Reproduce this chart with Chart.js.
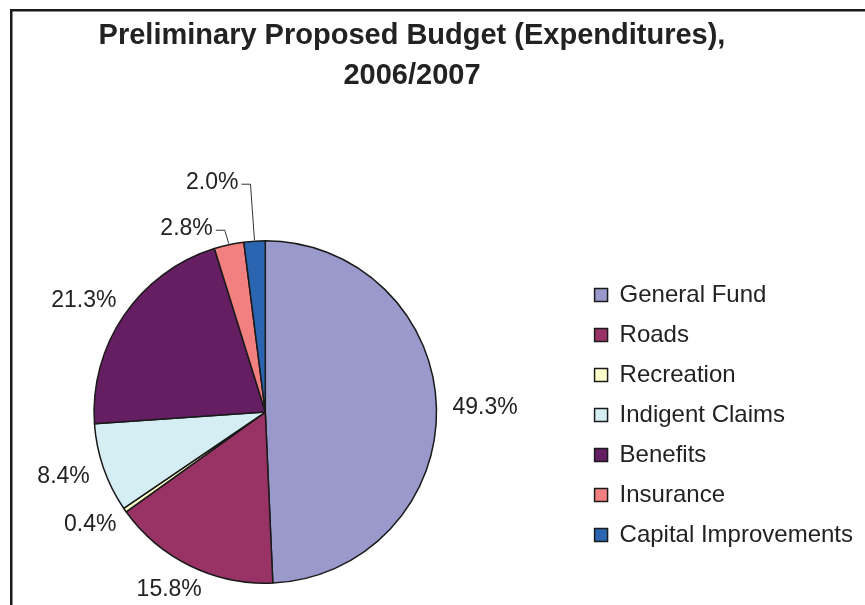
<!DOCTYPE html>
<html>
<head>
<meta charset="utf-8">
<title>Preliminary Proposed Budget (Expenditures), 2006/2007</title>
<script src="https://cdn.jsdelivr.net/npm/chart.js"></script>
<style>
  html, body { margin: 0; padding: 0; background: #fff; }
  canvas { display: block; }
</style>
</head>
<body>
<canvas id="budgetChart" width="865" height="605"></canvas>
<script>
const categories = ["General Fund", "Roads", "Recreation", "Indigent Claims", "Benefits", "Insurance", "Capital Improvements"];
const shares = [49.3, 15.8, 0.4, 8.4, 21.3, 2.8, 2.0];
const sliceColors = ["#9999CC", "#993366", "#FFFFCC", "#D4EEF4", "#651E62", "#F38080", "#2B65B2"];
const titleLines = ["Preliminary Proposed Budget (Expenditures),", "2006/2007"];

const textColor = "#222";
const fontFamily = '"Liberation Sans", Arial, sans-serif';

// white page and the dark frame round the chart
const framePlugin = {
	id: "frame",
	beforeDraw(chart) {
		const ctx = chart.ctx;
		ctx.save();
		ctx.fillStyle = "#fff";
		ctx.fillRect(0, 0, chart.width, chart.height);
		ctx.strokeStyle = "#1a1a1a";
		ctx.lineWidth = 2.5;
		ctx.strokeRect(11.25, 10.25, chart.width + 40, chart.height + 40);
		ctx.restore();
	},
};

// widen the plot area to the left so the pie sits well clear of the legend,
// and drop the legend a touch
const plotAreaPlugin = {
	id: "plotArea",
	afterLayout(chart) {
		const area = chart.chartArea;
		area.left -= 48;
		area.width = area.right - area.left;
		chart.legend.top += 3;
		chart.legend.bottom += 3;
	},
};

// percentage labels outside the slices; labels that collide get a leader line
const pctLabelPlugin = {
	id: "pctLabels",
	afterDatasetsDraw(chart) {
		const ctx = chart.ctx;
		const meta = chart.getDatasetMeta(0);
		const h = 20;
		ctx.save();
		ctx.font = "23px " + fontFamily;

		const labels = meta.data.map((arc, i) => {
			const p = arc.getProps(["x", "y", "startAngle", "endAngle", "outerRadius"], true);
			const mid = (p.startAngle + p.endAngle) / 2;
			const dx = Math.cos(mid);
			const dy = Math.sin(mid);
			const text = shares[i].toFixed(1) + "%";
			const w = ctx.measureText(text).width;
			const r = p.outerRadius + 16;
			return {
				text, w,
				cx: p.x + dx * r + dx * w / 2,
				cy: p.y + dy * r + dy * h / 2,
				ax: p.x + dx * (p.outerRadius + 1),
				ay: p.y + dy * (p.outerRadius + 1),
				callout: false,
			};
		});

		for (let i = 0; i < labels.length; i++) {
			for (let j = i + 1; j < labels.length; j++) {
				const a = labels[i], b = labels[j];
				if (Math.abs(a.cx - b.cx) < (a.w + b.w) / 2 && Math.abs(a.cy - b.cy) < h) {
					a.callout = b.callout = true;
				}
			}
		}

		// crowded labels stack upwards, to the left of their slice
		let prevY = null;
		labels.filter((l) => l.callout).forEach((l) => {
			l.cy = prevY === null ? l.ay - 15 : prevY - 46;
			l.cx = l.ax - 16 - l.w / 2;
			prevY = l.cy;
			const right = l.cx + l.w / 2;
			ctx.strokeStyle = "#333";
			ctx.lineWidth = 1;
			ctx.beginPath();
			ctx.moveTo(right + 3, l.cy + 1.5);
			ctx.lineTo(right + 12, l.cy + 1.5);
			ctx.lineTo(l.ax, l.ay);
			ctx.stroke();
		});

		ctx.fillStyle = textColor;
		ctx.textAlign = "center";
		ctx.textBaseline = "middle";
		labels.forEach((l) => ctx.fillText(l.text, l.cx, l.cy));
		ctx.restore();
	},
};

new Chart(document.getElementById("budgetChart"), {
	type: "pie",
	data: {
		labels: categories,
		datasets: [
			{
				data: shares,
				backgroundColor: sliceColors,
				borderColor: "#1a1a1a",
				borderWidth: 1.5,
				hoverOffset: 0,
			},
		],
	},
	options: {
		responsive: false,
		animation: false,
		events: [],
		layout: {
			padding: { top: 0, left: -39, right: 2, bottom: 21 },
		},
		plugins: {
			title: {
				display: true,
				text: titleLines,
				color: textColor,
				font: { family: fontFamily, size: 29, weight: "bold", lineHeight: 1.38 },
				padding: { top: 16, bottom: 144 },
			},
			legend: {
				position: "right",
				fullSize: false,
				labels: {
					boxWidth: 13,
					boxHeight: 13,
					padding: 16,
					color: textColor,
					font: { family: fontFamily, size: 24 },
				},
			},
			tooltip: { enabled: false },
		},
	},
	plugins: [framePlugin, plotAreaPlugin, pctLabelPlugin],
});
</script>
</body>
</html>
